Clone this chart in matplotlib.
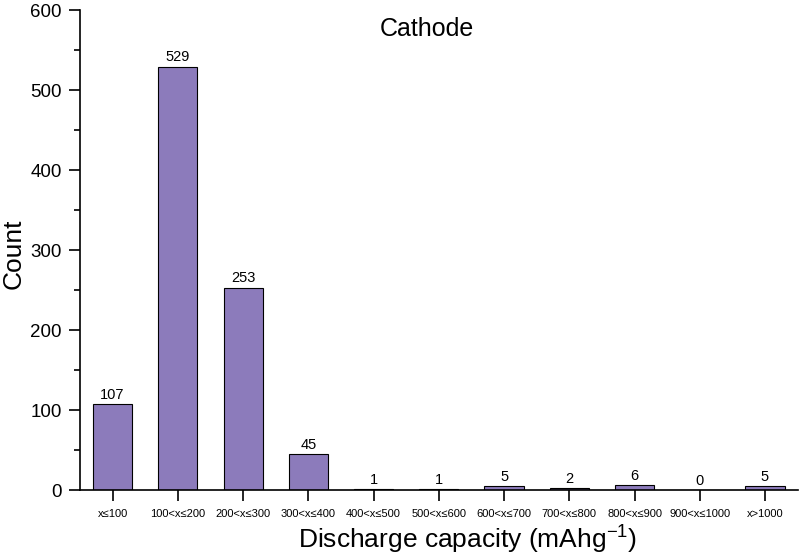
import matplotlib as mpl
mpl.use("Agg")
import matplotlib.pyplot as plt
from matplotlib.ticker import MultipleLocator

plt.rcParams["font.family"] = ["Liberation Sans", "DejaVu Sans"]
plt.rcParams["mathtext.fontset"] = "custom"
plt.rcParams["mathtext.rm"] = "Liberation Sans"

# Bins of discharge capacity and counts per bin
categories = ["x≤100", "100<x≤200", "200<x≤300", "300<x≤400", "400<x≤500",
              "500<x≤600", "600<x≤700", "700<x≤800", "800<x≤900",
              "900<x≤1000", "x>1000"]
counts = [107, 529, 253, 45, 1, 1, 5, 2, 6, 0, 5]

fig = plt.figure(figsize=(8, 5.59), dpi=100)
ax = fig.add_axes([0.1, 0.1234, 0.897, 0.8586])

xs = range(len(categories))
ax.bar(xs, counts, width=0.6, color="#8c7bbb", edgecolor="black",
       linewidth=0.8)
for x, c in zip(xs, counts):
    ax.text(x, c + 3, str(c), ha="center", va="bottom", fontsize=10.5)

ax.set_xlim(-0.5, len(categories) - 0.5)
ax.set_ylim(0, 600)
ax.set_xticks(list(xs))
ax.set_xticklabels(categories, fontsize=8)
ax.yaxis.set_major_locator(MultipleLocator(100))
ax.yaxis.set_minor_locator(MultipleLocator(50))
ax.tick_params(axis="y", labelsize=13.5, width=1.2, length=8, pad=5)
ax.tick_params(axis="y", which="minor", width=1.2, length=4)
ax.tick_params(axis="x", width=1.2, length=8, pad=6)

for s in ("top", "right"):
    ax.spines[s].set_visible(False)
for s in ("left", "bottom"):
    ax.spines[s].set_linewidth(1.2)

ax.set_ylabel("Count", fontsize=19, va="center")
ax.yaxis.set_label_coords(-0.093, 0.492)
ax.set_xlabel("Discharge capacity (mAhg$^{\\mathrm{-1}}$)", fontsize=19,
              va="bottom")
ax.xaxis.set_label_coords(0.54, -0.135)
ax.text(0.483, 0.96, "Cathode", transform=ax.transAxes, ha="center",
        va="center", fontsize=18)

fig.savefig("out.png", dpi=100)
